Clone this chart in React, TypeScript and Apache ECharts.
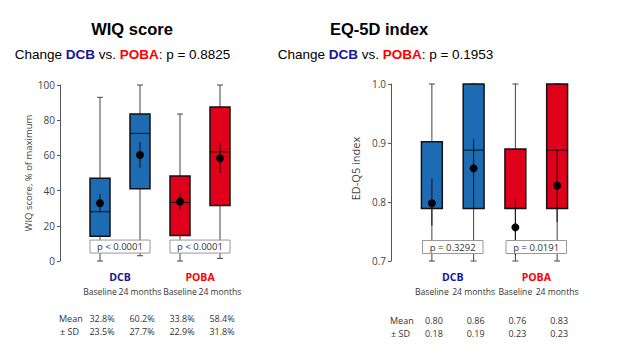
import React, { useEffect, useRef } from "react";
import * as echarts from "echarts";

// ---------- data ----------
const categories = ["Baseline", "24 months", "Baseline", "24 months"];
const groupNames = ["DCB", "POBA"];
const chartTitles = ["WIQ score", "EQ-5D index"];
const changeP = ["0.8825", "0.1953"];
const yAxisNames = ["WIQ score, % of maximum", "ED-Q5 index"];

// [min, Q1, median, Q3, max]
const wiqBox = [
  [0, 14, 28, 47, 93],
  [3, 41, 72.5, 83.5, 100],
  [0, 14.5, 33.3, 48.3, 83.5],
  [1.5, 31.5, 62, 87.5, 100],
];
const wiqMean = [32.8, 60.2, 33.8, 58.4];
const wiqCI = [
  [27.5, 38],
  [53, 67.5],
  [29, 38.5],
  [50, 67],
];
const wiqMeanText = ["32.8%", "60.2%", "33.8%", "58.4%"];
const wiqSDText = ["23.5%", "27.7%", "22.9%", "31.8%"];
const wiqPText = ["p < 0.0001", "p < 0.0001"];
const wiqPLevel = 8.2;

const eqBox = [
  [0.7, 0.789, 0.789, 0.902, 1.0],
  [0.7, 0.789, 0.888, 1.0, 1.0],
  [0.7, 0.789, 0.789, 0.89, 1.0],
  [0.7, 0.789, 0.888, 1.0, 1.0],
];
const eqMean = [0.798, 0.857, 0.757, 0.828];
const eqCI = [
  [0.76, 0.84],
  [0.79, 0.907],
  [0.71, 0.806],
  [0.766, 0.89],
];
const eqMeanText = ["0.80", "0.86", "0.76", "0.83"];
const eqSDText = ["0.18", "0.19", "0.23", "0.23"];
const eqPText = ["p = 0.3292", "p = 0.0191"];
const eqPLevel = 0.7237;

// ---------- styling / layout ----------
const BLUE = "#1d6cb3";
const RED = "#e1001b";
const DCB_COLOR = "#16169c";
const POBA_COLOR = "#ff0000";
const boxColors = [BLUE, BLUE, RED, RED];
const SANS = "'Open Sans', 'Noto Sans', sans-serif";
const ARIAL = "'Liberation Sans', Arial, sans-serif";
const pTexts = [wiqPText, eqPText];

const GL = { left: 80, top: 85, width: 160, height: 176 };
const GR = { left: 411, top: 84, width: 167, height: 177 };

function catX(g: any, i: number) {
  return g.left + ((i + 0.5) * g.width) / categories.length;
}

function boxRender(params: any, api: any) {
  const idx = api.value(0);
  const x = api.coord([idx, api.value(1)])[0];
  const yMin = api.coord([idx, api.value(1)])[1];
  const yQ1 = api.coord([idx, api.value(2)])[1];
  const yMed = api.coord([idx, api.value(3)])[1];
  const yQ3 = api.coord([idx, api.value(4)])[1];
  const yMax = api.coord([idx, api.value(5)])[1];
  const band = api.size([1, 0])[0];
  const bw = band * 0.5;
  const cap = 3;
  const color = boxColors[idx];
  return {
    type: "group",
    children: [
      { type: "line", shape: { x1: x, y1: yMax, x2: x, y2: yMin }, style: { stroke: "#444", lineWidth: 1 } },
      { type: "line", shape: { x1: x - cap, y1: yMax, x2: x + cap, y2: yMax }, style: { stroke: "#444", lineWidth: 1 } },
      { type: "line", shape: { x1: x - cap, y1: yMin, x2: x + cap, y2: yMin }, style: { stroke: "#444", lineWidth: 1 } },
      {
        type: "rect",
        shape: { x: x - bw / 2, y: yQ3, width: bw, height: yQ1 - yQ3 },
        style: { fill: color, stroke: "#111", lineWidth: 1.5 },
      },
      { type: "line", shape: { x1: x - bw / 2, y1: yMed, x2: x + bw / 2, y2: yMed }, style: { stroke: "#111", lineWidth: 1 } },
    ],
  };
}

function meanRender(params: any, api: any) {
  const idx = api.value(0);
  const [x, y] = api.coord([idx, api.value(1)]);
  const yLo = api.coord([idx, api.value(2)])[1];
  const yHi = api.coord([idx, api.value(3)])[1];
  return {
    type: "group",
    children: [
      { type: "line", shape: { x1: x, y1: yLo, x2: x, y2: yHi }, style: { stroke: "#111", lineWidth: 1 } },
      { type: "circle", shape: { cx: x, cy: y, r: 4 }, style: { fill: "#000" } },
    ],
  };
}

function pRender(chartIdx: number, widthBands: number) {
  return (params: any, api: any) => {
    const i0 = api.value(0);
    const i1 = api.value(1);
    const p0 = api.coord([i0, api.value(2)]);
    const p1 = api.coord([i1, api.value(2)]);
    const cx = (p0[0] + p1[0]) / 2;
    const cy = p0[1];
    const band = api.size([1, 0])[0];
    const w = band * widthBands;
    const h = 13;
    return {
      type: "group",
      children: [
        {
          type: "rect",
          shape: { x: cx - w / 2, y: cy - h / 2, width: w, height: h },
          style: { fill: "#fff", stroke: "#999", lineWidth: 1 },
        },
        {
          type: "text",
          x: cx,
          y: cy,
          style: {
            text: pTexts[chartIdx][params.dataIndex],
            fill: "#333",
            fontSize: 9.5,
            fontFamily: SANS,
            align: "center",
            verticalAlign: "middle",
          },
        },
      ],
    };
  };
}

function makeGraphics() {
  const els: any[] = [];
  const grids = [GL, GR];
  const titleX = [132, 379];
  const subX = [122.5, 385.5];
  const meanTexts = [wiqMeanText, eqMeanText];
  const sdTexts = [wiqSDText, eqSDText];
  const rowLabelX = [59, 390];
  const meanY = [318, 320];
  const sdY = [331, 333];
  const FS = 9;
  for (let c = 0; c < 2; c++) {
    const g = grids[c];
    els.push({
      type: "text",
      x: titleX[c],
      y: 29,
      style: {
        text: chartTitles[c],
        fill: "#000",
        fontSize: 16.5,
        fontWeight: "bold",
        fontFamily: ARIAL,
        align: "center",
        verticalAlign: "middle",
      },
    });
    els.push({
      type: "text",
      x: subX[c],
      y: 54,
      style: {
        text: `{a|Change }{b|${groupNames[0]}}{a| vs. }{c|${groupNames[1]}}{a|: p = ${changeP[c]}}`,
        align: "center",
        verticalAlign: "middle",
        rich: {
          a: { fill: "#000", color: "#000", fontSize: 13.5, fontFamily: ARIAL },
          b: { fill: DCB_COLOR, color: DCB_COLOR, fontSize: 13.5, fontFamily: ARIAL, fontWeight: "bold" },
          c: { fill: POBA_COLOR, color: POBA_COLOR, fontSize: 13.5, fontFamily: ARIAL, fontWeight: "bold" },
        },
      },
    });
    for (let k = 0; k < 2; k++) {
      const gx = (catX(g, 2 * k) + catX(g, 2 * k + 1)) / 2;
      els.push({
        type: "text",
        x: gx,
        y: 277,
        style: {
          text: groupNames[k],
          fill: k === 0 ? DCB_COLOR : POBA_COLOR,
          fontSize: 10.5,
          fontWeight: "bold",
          fontFamily: SANS,
          align: "center",
          verticalAlign: "middle",
        },
      });
    }
    els.push({
      type: "text",
      x: rowLabelX[c],
      y: meanY[c],
      style: { text: "Mean", fill: "#333", fontSize: FS, fontFamily: SANS, align: "left", verticalAlign: "middle" },
    });
    els.push({
      type: "text",
      x: rowLabelX[c] + 1,
      y: sdY[c],
      style: { text: "± SD", fill: "#333", fontSize: FS, fontFamily: SANS, align: "left", verticalAlign: "middle" },
    });
    for (let i = 0; i < categories.length; i++) {
      const x = catX(g, i) + 2;
      els.push({
        type: "text",
        x,
        y: meanY[c],
        style: { text: meanTexts[c][i], fill: "#333", fontSize: FS, fontFamily: SANS, align: "center", verticalAlign: "middle" },
      });
      els.push({
        type: "text",
        x,
        y: sdY[c],
        style: { text: sdTexts[c][i], fill: "#333", fontSize: FS, fontFamily: SANS, align: "center", verticalAlign: "middle" },
      });
    }
  }
  return els;
}

export default function App() {
  const ref = useRef<HTMLDivElement>(null);
  useEffect(() => {
    if (!ref.current) return;
    const chart = echarts.init(ref.current, undefined, { renderer: "svg" });
    const xAxisBase = {
      type: "category",
      data: categories,
      axisLine: { show: false },
      axisTick: { show: false },
      axisLabel: { color: "#333", fontSize: 8.6, fontFamily: SANS, margin: 26, interval: 0 },
      splitLine: { show: false },
    };
    const yAxisBase = {
      type: "value",
      offset: 20,
      axisLine: { show: true, lineStyle: { color: "#555", width: 1 } },
      axisTick: { show: true, length: 3, lineStyle: { color: "#555" } },
      splitLine: { show: false },
      nameLocation: "middle",
      nameRotate: 90,
    };
    chart.setOption({
      animation: false,
      backgroundColor: "#fff",
      grid: [
        { left: GL.left, top: GL.top, width: GL.width, height: GL.height },
        { left: GR.left, top: GR.top, width: GR.width, height: GR.height },
      ],
      xAxis: [
        { ...xAxisBase, gridIndex: 0 },
        { ...xAxisBase, gridIndex: 1 },
      ],
      yAxis: [
        {
          ...yAxisBase,
          gridIndex: 0,
          min: 0,
          max: 100,
          interval: 20,
          name: yAxisNames[0],
          nameGap: 18,
          nameTextStyle: { color: "#444", fontSize: 9.5, fontFamily: SANS },
          axisLabel: { color: "#444", fontSize: 10, fontFamily: SANS, margin: 5 },
        },
        {
          ...yAxisBase,
          gridIndex: 1,
          min: 0.7,
          max: 1.0,
          interval: 0.1,
          name: yAxisNames[1],
          nameGap: 30,
          nameTextStyle: { color: "#444", fontSize: 11, fontFamily: SANS, padding: [0, 0, 0, 8] },
          axisLabel: {
            color: "#444",
            fontSize: 10,
            fontFamily: SANS,
            margin: 5,
            formatter: (v: number) => v.toFixed(1),
          },
        },
      ],
      series: [
        {
          type: "custom",
          xAxisIndex: 0,
          yAxisIndex: 0,
          renderItem: boxRender,
          encode: { x: 0, y: [1, 2, 3, 4, 5] },
          data: wiqBox.map((b, i) => [i, ...b]),
          z: 2,
        },
        {
          type: "custom",
          xAxisIndex: 0,
          yAxisIndex: 0,
          renderItem: meanRender,
          encode: { x: 0, y: [1, 2, 3] },
          data: wiqMean.map((m, i) => [i, m, wiqCI[i][0], wiqCI[i][1]]),
          z: 3,
        },
        {
          type: "custom",
          xAxisIndex: 0,
          yAxisIndex: 0,
          renderItem: pRender(0, 1.5),
          encode: { y: 2 },
          data: wiqPText.map((_, k) => [2 * k, 2 * k + 1, wiqPLevel]),
          z: 4,
        },
        {
          type: "custom",
          xAxisIndex: 1,
          yAxisIndex: 1,
          renderItem: boxRender,
          encode: { x: 0, y: [1, 2, 3, 4, 5] },
          data: eqBox.map((b, i) => [i, ...b]),
          z: 2,
        },
        {
          type: "custom",
          xAxisIndex: 1,
          yAxisIndex: 1,
          renderItem: meanRender,
          encode: { x: 0, y: [1, 2, 3] },
          data: eqMean.map((m, i) => [i, m, eqCI[i][0], eqCI[i][1]]),
          z: 3,
        },
        {
          type: "custom",
          xAxisIndex: 1,
          yAxisIndex: 1,
          renderItem: pRender(1, 1.45),
          encode: { y: 2 },
          data: eqPText.map((_, k) => [2 * k, 2 * k + 1, eqPLevel]),
          z: 4,
        },
      ],
      graphic: makeGraphics(),
    });
    return () => chart.dispose();
  }, []);
  return (
    <div
      ref={ref}
      style={{ position: "fixed", left: 0, top: 0, width: 640, height: 360, background: "#fff" }}
    />
  );
}
